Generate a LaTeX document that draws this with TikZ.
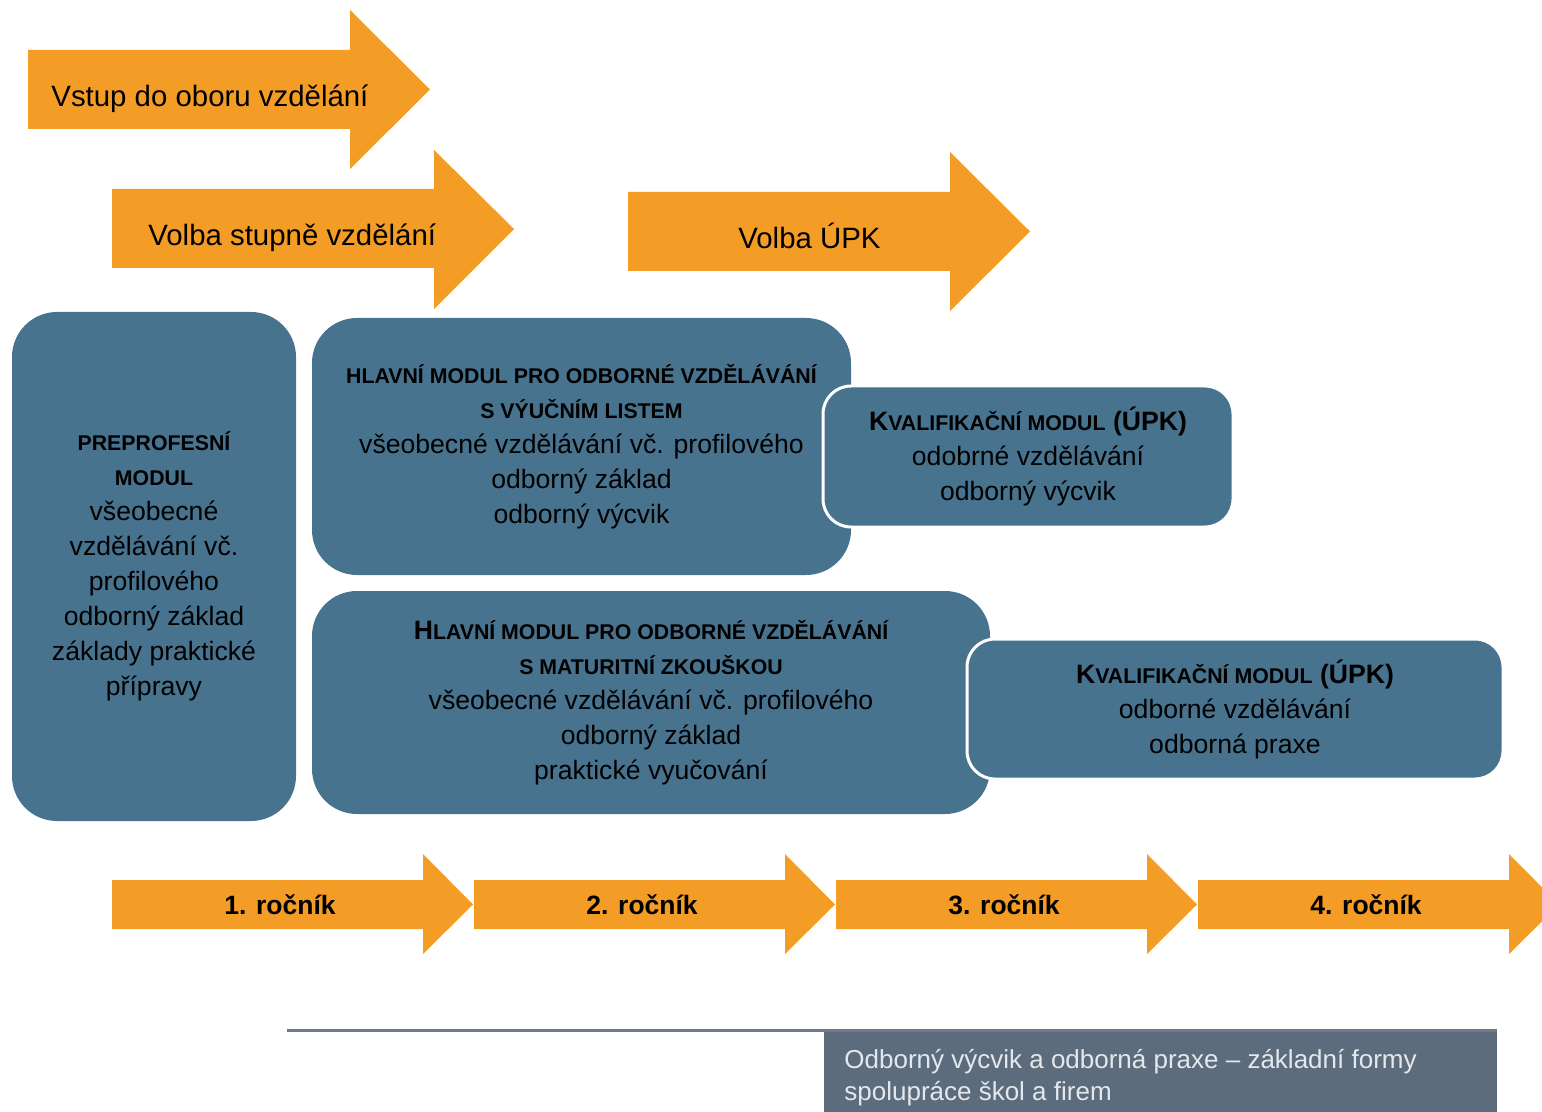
\documentclass[tikz,border=0pt]{standalone}
\usepackage{fontspec}
\setmainfont{Liberation Sans}

\definecolor{arroworange}{HTML}{F39C26}
\definecolor{modblue}{HTML}{47738F}
\definecolor{captionslate}{HTML}{5C6C7D}
\definecolor{captiontext}{HTML}{E4E8EC}
\definecolor{ruleline}{HTML}{6E7A86}

% small-caps style headings inside the module boxes
\newcommand\modhead[1]{{\bfseries\fontsize{10.65}{17.5}\selectfont #1}}
\newcommand\modinit[1]{{\bfseries\fontsize{13.3}{17.5}\selectfont #1}}

\begin{document}
\begin{tikzpicture}[x=0.5pt,y=-0.5pt,
  blockarrow/.style={fill=arroworange,draw=none},
  arrowlabel/.style={inner sep=0,font=\fontsize{14.7}{17}\selectfont,text=black},
  yearlabel/.style={inner sep=0,font=\bfseries\fontsize{13.25}{16}\selectfont,text=black},
  module/.style={fill=modblue,draw=none,rounded corners=22.5pt,align=center,
    inner sep=0,text=black,font=\fontsize{13.3}{17.5}\selectfont},
  qualmodule/.style={module,draw=white,line width=1.5pt,rounded corners=14pt},
]
\useasboundingbox (0,0) rectangle (1542,1112);
\clip (0,0) rectangle (1542,1112);

% top block arrows
\fill[blockarrow] (28,50) -- (350,50) -- (350,10) -- (430,89.5) -- (350,169) -- (350,129) -- (28,129) -- cycle;
\node[arrowlabel,anchor=base west] (entry) at (51,106.5) {Vstup do oboru vzdělání};

\fill[blockarrow] (112,189) -- (434,189) -- (434,150) -- (514,229) -- (434,309) -- (434,268) -- (112,268) -- cycle;
\node[arrowlabel,anchor=base west] (level) at (148,245.5) {Volba stupně vzdělání};

\fill[blockarrow] (628,192) -- (950,192) -- (950,152) -- (1030,231.5) -- (950,311) -- (950,271) -- (628,271) -- cycle;
\node[arrowlabel,anchor=base west] (upk) at (738,248.5) {Volba ÚPK};

% module boxes
\node[module,minimum width=142pt,minimum height=254.5pt] (prep) at (154,566.5)
  {\modhead{PREPROFESNÍ}\\\modhead{MODUL}\\všeobecné\\vzdělávání vč.\\profilového\\odborný základ\\základy praktické\\přípravy};

\node[module,minimum width=269.5pt,minimum height=128.5pt] (mainvl) at (581.5,446.5)
  {\modhead{HLAVNÍ MODUL PRO ODBORNÉ VZDĚLÁVÁNÍ}\\\modhead{S VÝUČNÍM LISTEM}\\všeobecné vzdělávání vč. profilového\\odborný základ\\odborný výcvik};

\node[module,minimum width=339pt,minimum height=111.5pt] (mainmz) at (651,702.5)
  {\modinit{H}\modhead{LAVNÍ MODUL PRO ODBORNÉ VZDĚLÁVÁNÍ}\\\modhead{S MATURITNÍ ZKOUŠKOU}\\všeobecné vzdělávání vč. profilového\\odborný základ\\praktické vyučování};

\node[qualmodule,minimum width=205pt,minimum height=70.5pt] (qualvl) at (1028,456.5)
  {\modinit{K}\modhead{VALIFIKAČNÍ MODUL}\modinit{ (ÚPK)}\\odobrné vzdělávání\\odborný výcvik};

\node[qualmodule,minimum width=268pt,minimum height=70pt] (qualmz) at (1235,709)
  {\modinit{K}\modhead{VALIFIKAČNÍ MODUL}\modinit{ (ÚPK)}\\odborné vzdělávání\\odborná praxe};

% year arrows
\foreach \k/\lbl in {0/1,1/2,2/3,3/4}{
  \pgfmathsetmacro\xs{112+362*\k}
  \fill[blockarrow] (\xs,880) -- ({\xs+311},880) -- ({\xs+311},854) -- ({\xs+361},904.5)
     -- ({\xs+311},954) -- ({\xs+311},929) -- (\xs,929) -- cycle;
  \node[yearlabel,anchor=base] (year\lbl) at ({\xs+168},914) {\lbl. ročník};
}

% caption strip
\fill[captionslate] (824,1031) rectangle (1497,1112);
\draw[ruleline,line width=1.5pt] (287,1030) -- (1497,1030);
\node[anchor=north west,align=left,inner sep=0,text=captiontext,
      font=\fontsize{13}{16}\selectfont] (caption) at (844,1049)
  {Odborný výcvik a odborná praxe -- základní formy\\spolupráce škol a firem};
\end{tikzpicture}
\end{document}
